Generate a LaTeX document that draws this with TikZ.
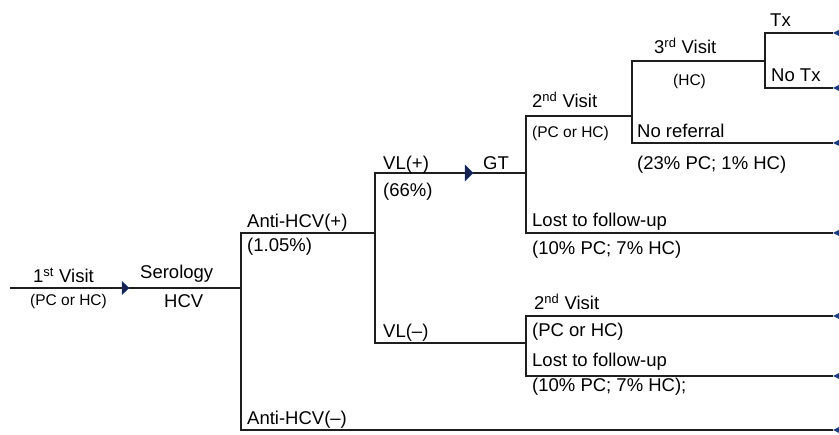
\documentclass[tikz,border=0pt]{standalone}
\usepackage{fontspec}
\setmainfont{Liberation Sans}
\definecolor{ln}{RGB}{30,30,30}
\definecolor{mk}{RGB}{22,34,80}
\definecolor{tm}{RGB}{25,60,130}
\begin{document}
\begin{tikzpicture}[x=1pt,y=-1pt,
  br/.style={draw=ln,line width=1.8pt},
  lbl/.style={anchor=base west,inner sep=0pt,text=black,font=\fontsize{18.5}{20}\selectfont},
  sml/.style={anchor=base west,inner sep=0pt,text=black,font=\fontsize{15.5}{17}\selectfont},
  chance/.style={fill=mk,draw=tm,line width=0.4pt},
  term/.style={fill=tm,draw=none}]
\useasboundingbox (0,0) rectangle (839,435);
\fill[white] (0,0) rectangle (839,435);
% junction coordinates
\coordinate (s0) at (10,288);
\coordinate (j1) at (241,288);
\coordinate (a1) at (241,233);
\coordinate (a1e) at (375,233);
\coordinate (an) at (241,430);
\coordinate (ane) at (833,430);
\coordinate (vlp) at (375,173);
\coordinate (gtj) at (526,173);
\coordinate (vlm) at (375,343);
\coordinate (vlme) at (526,343);
\coordinate (v2) at (526,116);
\coordinate (v2e) at (632,116);
\coordinate (lf) at (526,233);
\coordinate (lfe) at (833,233);
\coordinate (v3) at (632,61);
\coordinate (v3e) at (765,61);
\coordinate (nr) at (632,143);
\coordinate (nre) at (833,143);
\coordinate (tx) at (765,33);
\coordinate (txe) at (833,33);
\coordinate (ntx) at (765,88);
\coordinate (ntxe) at (833,88);
\coordinate (v2b) at (526,316);
\coordinate (v2be) at (833,316);
\coordinate (lfb) at (526,376);
\coordinate (lfbe) at (833,376);
% branches
\draw[br] (s0) -- (j1);
\draw[br] (a1e) -- (a1) -- (an) -- (ane);
\draw[br] (gtj) -- (vlp) -- (vlm) -- (vlme);
\draw[br] (a1) -- (a1e);
\draw[br] (v2e) -- (v2) -- (lf) -- (lfe);
\draw[br] (vlp) -- (gtj);
\draw[br] (v3e) -- (v3) -- (nr) -- (nre);
\draw[br] (txe) -- (tx) -- (ntx) -- (ntxe);
\draw[br] (v2be) -- (v2b) -- (lfb) -- (lfbe);
% chance markers
\draw[chance] (122,281.5) -- (129,288) -- (122,294.5) -- cycle;
\draw[chance] (465,165) -- (473,173) -- (465,181) -- cycle;
% terminal markers
\begin{scope}
\clip (0,0) rectangle (839,435);
\foreach \yy in {33,88,143,233,316,376,430}
  \fill[term] (833,\yy) -- (843,\yy-5) -- (843,\yy+5) -- cycle;
\end{scope}
% labels
\node[lbl] (t1) at (33,283) {1\textsuperscript{st} Visit};
\node[sml] (t1b) at (30,306) {(PC or HC)};
\node[lbl] (ts) at (140,279) {Serology};
\node[lbl] (tsb) at (164,308) {HCV};
\node[lbl] (tap) at (247,228) {Anti-HCV(+)};
\node[lbl] (tapb) at (247,252) {(1.05\%)};
\node[lbl] (tvp) at (383,170) {VL(+)};
\node[lbl] (tvpb) at (383,197) {(66\%)};
\node[lbl] (tgt) at (483,170) {GT};
\node[lbl] (t2) at (532,108) {2\textsuperscript{nd} Visit};
\node[sml] (t2b) at (532,138) {(PC or HC)};
\node[lbl] (t3) at (654,54) {3\textsuperscript{rd} Visit};
\node[sml] (t3b) at (673,86) {(HC)};
\node[lbl] (ttx) at (770,27) {Tx};
\node[lbl] (tntx) at (771,82) {No Tx};
\node[lbl] (tnr) at (637,138) {No referral};
\node[lbl] (tnrb) at (637,170) {(23\% PC; 1\% HC)};
\node[lbl] (tlf) at (532,227) {Lost to follow-up};
\node[lbl] (tlfb) at (532,255) {(10\% PC; 7\% HC)};
\node[lbl] (tvm) at (383,338) {VL(–)};
\node[lbl] (t2l) at (534,310) {2\textsuperscript{nd} Visit};
\node[lbl] (t2lb) at (532,337) {(PC or HC)};
\node[lbl] (tlf2) at (532,367) {Lost to follow-up};
\node[lbl] (tlf2b) at (532,392) {(10\% PC; 7\% HC);};
\node[lbl] (tan) at (247,425) {Anti-HCV(–)};
\end{tikzpicture}
\end{document}
